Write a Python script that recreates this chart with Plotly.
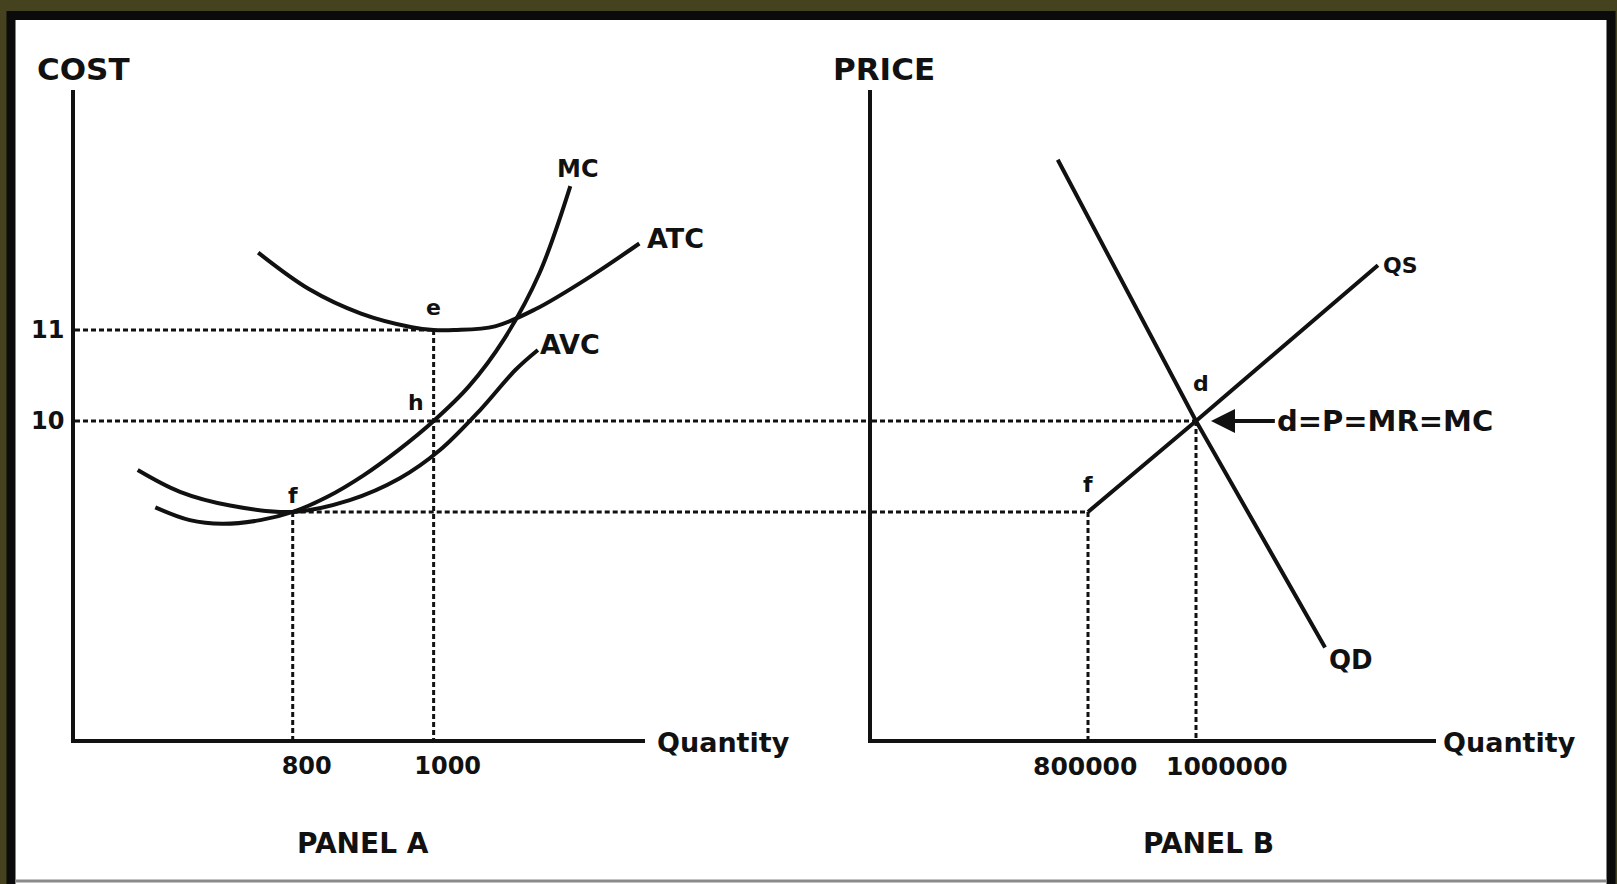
import plotly.graph_objects as go

# ---------------- data ----------------
# Panel A (firm)
mc_q    = [605, 654, 700, 754, 800, 850, 900, 950, 1000, 1050, 1100, 1150, 1194]
mc_cost = [9.05, 8.91, 8.87, 8.91, 9.0, 9.17, 9.40, 9.68, 10.0, 10.38, 10.90, 11.62, 12.58]

atc_q    = [751, 823, 897, 969, 1000, 1029, 1087, 1145, 1219, 1292]
atc_cost = [11.85, 11.45, 11.18, 11.03, 11.0, 11.0, 11.04, 11.23, 11.57, 11.95]

avc_q    = [580, 640, 711, 800, 881, 952, 1009, 1066, 1116, 1148]
avc_cost = [9.46, 9.22, 9.07, 9.0, 9.13, 9.37, 9.68, 10.12, 10.56, 10.78]

cost_tick_vals = [10, 11]
cost_tick_text = ["10", "11"]
firm_q_ticks = [800, 1000]
firm_q_text = ["800", "1000"]

# Panel B (market)
qs_q     = [800000, 1000000, 1337000]
qs_price = [9.0, 10.0, 11.71]
qd_q     = [744000, 1000000, 1239000]
qd_price = [12.87, 10.0, 7.51]
market_q_ticks = [800000, 1000000]
market_q_text = ["800000", "1000000"]

price_eq, price_low, atc_min = 10, 9, 11
firm_q_eq, firm_q_low = 1000, 800
market_q_eq, market_q_low = 1000000, 800000

# ---------------- layout geometry ----------------
W, H = 1617, 884
xa_dom = [75 / W, 645 / W]
xb_dom = [872 / W, 1436 / W]
y_dom = [1 - 739 / H, 1 - 90 / H]
xa_rng = [491, 1300]
xb_rng = [400000, 1444444]
y_rng = [6.505, 13.637]

FONT = "DejaVu Sans"
INK = "#111111"
LW = 4
DW = 3
DASH = "5px,3px"

fig = go.Figure()

def solid(x, y, xa="x", ya="y", smooth=True):
    fig.add_trace(go.Scatter(
        x=x, y=y, mode="lines", xaxis=xa, yaxis=ya, hoverinfo="skip",
        line=dict(color=INK, width=LW, shape="spline" if smooth else "linear", smoothing=1.0),
        showlegend=False))

def dashed(x, y, xa="x", ya="y"):
    fig.add_trace(go.Scatter(
        x=x, y=y, mode="lines", xaxis=xa, yaxis=ya, hoverinfo="skip",
        line=dict(color=INK, width=DW, dash=DASH), showlegend=False))

# Panel A dashed guides
dashed([xa_rng[0], firm_q_eq], [atc_min, atc_min])
dashed([xa_rng[0], xa_rng[1]], [price_eq, price_eq])
dashed([firm_q_low, xa_rng[1]], [price_low, price_low])
dashed([firm_q_low, firm_q_low], [price_low, y_rng[0]])
dashed([firm_q_eq, firm_q_eq], [atc_min, y_rng[0]])
# Panel B dashed guides
dashed([xb_rng[0], market_q_eq], [price_eq, price_eq], "x2", "y2")
dashed([xb_rng[0], market_q_low], [price_low, price_low], "x2", "y2")
dashed([market_q_low, market_q_low], [price_low, y_rng[0]], "x2", "y2")
dashed([market_q_eq, market_q_eq], [price_eq, y_rng[0]], "x2", "y2")

# curves
solid(atc_q, atc_cost)
solid(mc_q, mc_cost)
solid(avc_q, avc_cost)
solid(qs_q, qs_price, "x2", "y2", smooth=False)
solid(qd_q, qd_price, "x2", "y2", smooth=False)

shapes = []
# background frame (white sheet with thick black border on olive)
shapes.append(dict(type="rect", xref="paper", yref="paper", x0=11 / W, x1=1611 / W,
                   y0=1 - 892 / H, y1=1 - 15.5 / H, line=dict(color="#0b0b0b", width=9),
                   fillcolor="white", layer="below"))
shapes.append(dict(type="line", xref="paper", yref="paper", x0=15 / W, x1=1607 / W,
                   y0=1 - 881 / H, y1=1 - 881 / H, line=dict(color="#8a8a8a", width=3),
                   layer="below"))
# dashed guides crossing the gap between panels
for yv in (price_eq, price_low):
    shapes.append(dict(type="line", xref="paper", yref="y", x0=xa_dom[1], x1=xb_dom[0],
                       y0=yv, y1=yv, line=dict(color=INK, width=DW, dash=DASH)))

def txt(text, x, y, xref, yref, size=26, xanchor="center", yanchor="middle", xshift=0, yshift=0):
    return dict(text=text, x=x, y=y, xref=xref, yref=yref, showarrow=False,
                xanchor=xanchor, yanchor=yanchor, xshift=xshift, yshift=yshift,
                font=dict(family=FONT, size=size, color=INK, weight="bold"))

ann = [
    txt("COST", 0, 1, "x domain", "y domain", size=31, xanchor="left", xshift=-40, yshift=21),
    txt("PRICE", 0, 1, "x2 domain", "y2 domain", size=31, xanchor="left", xshift=-41, yshift=21),
    txt("Quantity", 1, 0, "x domain", "y domain", size=27, xanchor="left", xshift=10, yshift=-3),
    txt("Quantity", 1, 0, "x2 domain", "y2 domain", size=27, xanchor="left", xshift=5, yshift=-3),
    txt("PANEL A", 0.505, 0, "x domain", "y domain", size=28, yshift=-104),
    txt("PANEL B", 0.596, 0, "x2 domain", "y2 domain", size=28, yshift=-104),
    txt("MC", mc_q[-1], mc_cost[-1], "x", "y", size=24, xanchor="left", yanchor="bottom", xshift=-15, yshift=1),
    txt("ATC", atc_q[-1], atc_cost[-1], "x", "y", size=27, xanchor="left", xshift=6, yshift=5),
    txt("AVC", avc_q[-1], avc_cost[-1], "x", "y", size=27, xanchor="left", xshift=0, yshift=5),
    txt("QS", qs_q[-1], qs_price[-1], "x2", "y2", size=22, xanchor="left", xshift=3, yshift=0),
    txt("QD", qd_q[-1], qd_price[-1], "x2", "y2", size=26, xanchor="left", xshift=2, yshift=-12),
    txt("e", firm_q_eq, atc_min, "x", "y", size=22, yshift=22),
    txt("h", firm_q_eq, price_eq, "x", "y", size=22, xshift=-18, yshift=18),
    txt("f", firm_q_low, price_low, "x", "y", size=22, yshift=16),
    txt("f", market_q_low, price_low, "x2", "y2", size=22, yshift=27),
    txt("d", market_q_eq, price_eq, "x2", "y2", size=22, xshift=5, yshift=37),
]
# panel B quantity labels, placed at their tick values (offset as in the printed original)
for qv, qt, sh in zip(market_q_ticks, market_q_text, (-3, 31)):
    ann.append(txt(qt, qv, 0, "x2", "y2 domain", size=25, yanchor="top", xshift=sh, yshift=-11))
ann.append(dict(text="d=P=MR=MC", x=market_q_eq, y=price_eq, xref="x2", yref="y2",
                ax=1146000, ay=price_eq, axref="x2", ayref="y2",
                xanchor="left", yanchor="middle", showarrow=True,
                arrowhead=2, arrowsize=1.2, arrowwidth=4, arrowcolor=INK, standoff=15,
                font=dict(family=FONT, size=29, color=INK, weight="bold")))

axis_common = dict(showline=True, linecolor=INK, linewidth=3.5, showgrid=False,
                   zeroline=False, ticks="", mirror=False, tickangle=0)

fig.update_layout(
    width=W, height=H,
    margin=dict(l=0, r=0, t=0, b=0),
    paper_bgcolor="#45431f", plot_bgcolor="rgba(0,0,0,0)",
    showlegend=False,
    shapes=shapes, annotations=ann,
    xaxis=dict(domain=xa_dom, range=xa_rng, anchor="y", tickvals=firm_q_ticks,
               ticktext=firm_q_text, ticklabelstandoff=2, ticklabelshift=14,
               tickfont=dict(family=FONT, size=24, color=INK, weight="bold"), **axis_common),
    yaxis=dict(domain=y_dom, range=y_rng, anchor="x", tickvals=cost_tick_vals,
               ticktext=cost_tick_text, ticklabelstandoff=2,
               tickfont=dict(family=FONT, size=24, color=INK, weight="bold"), **axis_common),
    xaxis2=dict(domain=xb_dom, range=xb_rng, anchor="y2", tickvals=market_q_ticks,
                showticklabels=False, **axis_common),
    yaxis2=dict(domain=y_dom, range=y_rng, anchor="x2", showticklabels=False, **axis_common),
)

fig.write_html("out.html", config={"displayModeBar": False},
               post_script="document.body.style.margin='0';")
